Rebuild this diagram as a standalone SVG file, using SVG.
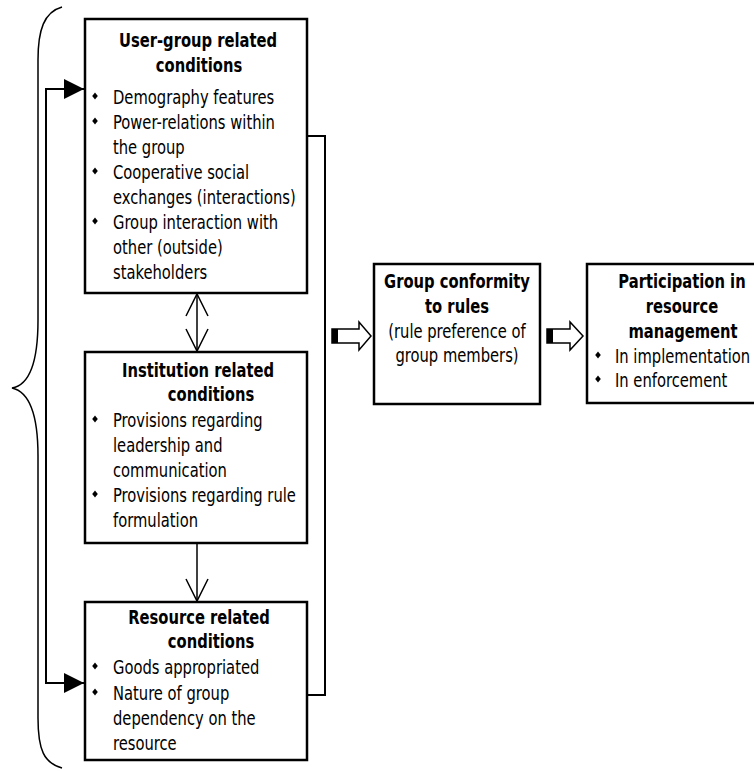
<svg xmlns="http://www.w3.org/2000/svg" xmlns:xlink="http://www.w3.org/1999/xlink" width="754" height="771" viewBox="0 0 754 771">
<style>
.bg{fill:#fff}
.box{fill:#fff;stroke:#000;stroke-width:2.5}
.t{font-family:"DejaVu Sans Condensed","DejaVu Sans",sans-serif;font-size:20px;fill:#000}
.b{font-weight:bold}
.m{text-anchor:middle}
.ln{fill:none;stroke:#000;stroke-width:2}
.thin{fill:none;stroke:#000;stroke-width:1.5}
.blk{fill:#fff;stroke:#000;stroke-width:1.5}
</style>
<defs>
<marker id="fa" viewBox="0 0 20 20" refX="20" refY="10" markerWidth="20" markerHeight="20" markerUnits="userSpaceOnUse" orient="auto-start-reverse">
<path d="M0,0 L20,10 L0,20 Z" fill="#000"/>
</marker>
<marker id="oa" viewBox="0 0 22 22" refX="22" refY="11" markerWidth="22" markerHeight="22" markerUnits="userSpaceOnUse" orient="auto-start-reverse" overflow="visible">
<path d="M0,0 L22,11 L0,22" fill="none" stroke="#000" stroke-width="1.5"/>
</marker>
<path id="bul" d="M0,-3.5 L2.8,0 L0,3.5 L-2.8,0 Z" fill="#000"/>
</defs>
<rect class="bg" x="0" y="0" width="754" height="771"/>

<g id="connectors">
<path class="thin" d="M62,7 C44,12 38,30 38,60 L38,320 C38,362 30,385 12,388 C30,392 38,415 38,456 L38,718 C38,750 44,763 62,768"/>
<path class="ln" d="M307,136 H325 V695 H307"/>
<path class="ln" d="M84,89 H46 V683 H84" marker-start="url(#fa)" marker-end="url(#fa)"/>
<path class="thin" d="M197,294 V351" marker-start="url(#oa)" marker-end="url(#oa)"/>
<path class="thin" d="M197,544 V601" marker-end="url(#oa)"/>
<g id="blockarrow1">
<path class="blk" d="M332,329 H359 V322 L371,336 L359,350 V343 H332 Z"/>
<rect x="332" y="329" width="6" height="14" fill="#000"/>
</g>
<g id="blockarrow2">
<path class="blk" d="M547,329 H570 V322 L583,336 L570,350 V343 H547 Z"/>
<rect x="547" y="329" width="6" height="14" fill="#000"/>
</g>
</g>

<g id="user-group">
<rect class="box" x="85" y="19" width="222" height="274"/>
<text class="t b m" transform="translate(198,47) scale(0.82,1)">User-group related</text>
<text class="t b m" transform="translate(199,72) scale(0.82,1)">conditions</text>
<use xlink:href="#bul" x="95" y="96"/>
<use xlink:href="#bul" x="95" y="121"/>
<use xlink:href="#bul" x="95" y="171"/>
<use xlink:href="#bul" x="95" y="221"/>
<text class="t" transform="translate(113,104) scale(0.82,1)">Demography features</text>
<text class="t" transform="translate(113,129) scale(0.82,1)">Power-relations within</text>
<text class="t" transform="translate(113,154) scale(0.82,1)">the group</text>
<text class="t" transform="translate(113,179) scale(0.82,1)">Cooperative social</text>
<text class="t" transform="translate(113,204) scale(0.82,1)">exchanges (interactions)</text>
<text class="t" transform="translate(113,229) scale(0.82,1)">Group interaction with</text>
<text class="t" transform="translate(113,254) scale(0.82,1)">other (outside)</text>
<text class="t" transform="translate(113,279) scale(0.82,1)">stakeholders</text>
</g>

<g id="institution">
<rect class="box" x="85" y="352" width="222" height="191"/>
<text class="t b m" transform="translate(198,377) scale(0.82,1)">Institution related</text>
<text class="t b m" transform="translate(211,401) scale(0.82,1)">conditions</text>
<use xlink:href="#bul" x="95" y="419"/>
<use xlink:href="#bul" x="95" y="494"/>
<text class="t" transform="translate(113,427) scale(0.82,1)">Provisions regarding</text>
<text class="t" transform="translate(113,452) scale(0.82,1)">leadership and</text>
<text class="t" transform="translate(113,477) scale(0.82,1)">communication</text>
<text class="t" transform="translate(113,502) scale(0.82,1)">Provisions regarding rule</text>
<text class="t" transform="translate(113,527) scale(0.82,1)">formulation</text>
</g>

<g id="resource">
<rect class="box" x="85" y="602" width="222" height="158"/>
<text class="t b m" transform="translate(199,624) scale(0.82,1)">Resource related</text>
<text class="t b m" transform="translate(211,648) scale(0.82,1)">conditions</text>
<use xlink:href="#bul" x="95" y="666"/>
<use xlink:href="#bul" x="95" y="692"/>
<text class="t" transform="translate(113,674) scale(0.82,1)">Goods appropriated</text>
<text class="t" transform="translate(113,700) scale(0.82,1)">Nature of group</text>
<text class="t" transform="translate(113,725) scale(0.82,1)">dependency on the</text>
<text class="t" transform="translate(113,750) scale(0.82,1)">resource</text>
</g>

<g id="conformity">
<rect class="box" x="374" y="264" width="166" height="140"/>
<text class="t b m" transform="translate(457,288) scale(0.82,1)">Group conformity</text>
<text class="t b m" transform="translate(457,313) scale(0.82,1)">to rules</text>
<text class="t m" transform="translate(457,338) scale(0.82,1)">(rule preference of</text>
<text class="t m" transform="translate(457,362) scale(0.82,1)">group members)</text>
</g>

<g id="participation">
<rect class="box" x="587" y="264" width="180" height="139"/>
<text class="t b m" transform="translate(682,288) scale(0.82,1)">Participation in</text>
<text class="t b m" transform="translate(682,313) scale(0.82,1)">resource</text>
<text class="t b m" transform="translate(683,338) scale(0.82,1)">management</text>
<use xlink:href="#bul" x="598" y="355"/>
<use xlink:href="#bul" x="598" y="379"/>
<text class="t" transform="translate(615,363) scale(0.82,1)">In implementation</text>
<text class="t" transform="translate(615,387) scale(0.82,1)">In enforcement</text>
</g>
</svg>
